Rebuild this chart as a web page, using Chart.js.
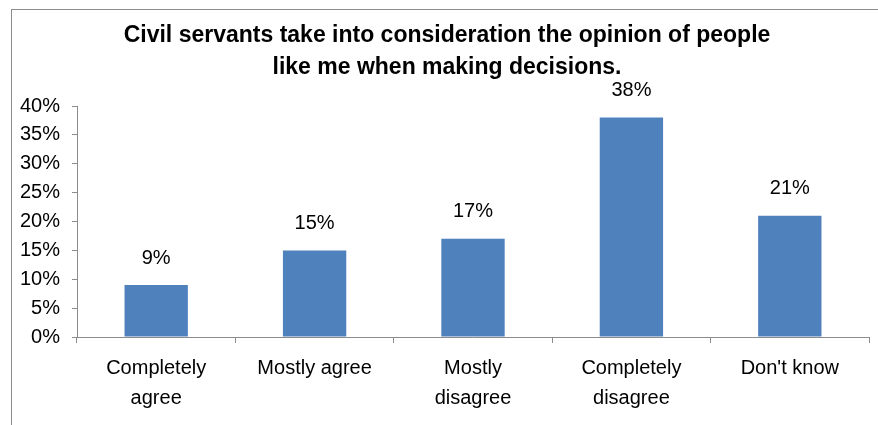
<!DOCTYPE html>
<html>
<head>
<meta charset="utf-8">
<script src="https://cdn.jsdelivr.net/npm/chart.js@4"></script>
<style>
  body { margin: 0; background: #fff; }
  #chart { display: block; }
</style>
</head>
<body>
<canvas id="chart" width="878" height="425"></canvas>
<script>
const categories = [['Completely', 'agree'], 'Mostly agree', ['Mostly', 'disagree'], ['Completely', 'disagree'], "Don't know"];
const values = [9, 15, 17, 38, 21];
const titleLines = ['Civil servants take into consideration the opinion of people', 'like me when making decisions.'];

const ctx = document.getElementById('chart').getContext('2d');

// outer frame and the two-line heading
const frameTitle = {
    id: 'frameTitle',
    beforeDraw(chart) {
        const c = chart.ctx;
        c.save();
        c.strokeStyle = '#8c8c8c';
        c.lineWidth = 1;
        c.strokeRect(11.5, 9.5, 900, 500);
        c.fillStyle = '#000';
        c.font = 'bold 23px "Liberation Sans", Arial, sans-serif';
        c.textAlign = 'center';
        c.textBaseline = 'middle';
        titleLines.forEach((t, i) => c.fillText(t, 447, 36 + i * 32));
        c.restore();
    }
};

// value labels above each bar
const barLabels = {
    id: 'barLabels',
    afterDatasetsDraw(chart) {
        const c = chart.ctx;
        const meta = chart.getDatasetMeta(0);
        c.save();
        c.fillStyle = '#000';
        c.font = '20px "Liberation Sans", Arial, sans-serif';
        c.textAlign = 'center';
        c.textBaseline = 'middle';
        meta.data.forEach((bar, i) => {
            c.fillText(values[i] + '%', bar.x, bar.y - 27);
        });
        c.restore();
    }
};

const myChart = new Chart(ctx, {
    type: 'bar',
    data: {
        labels: categories,
        datasets: [{
            data: values,
            backgroundColor: '#4f81bd',
            barPercentage: 0.4,
            categoryPercentage: 1
        }]
    },
    options: {
        responsive: false,
        animation: false,
        layout: { padding: { top: 106, right: 9, left: 0, bottom: 0 } },
        plugins: {
            legend: { display: false },
            tooltip: { enabled: false }
        },
        scales: {
            x: {
                afterFit(scale) { scale.height = 88; },
                grid: { drawOnChartArea: false, tickLength: 6, color: '#8c8c8c', offset: true },
                border: { color: '#8c8c8c' },
                ticks: {
                    color: '#000',
                    maxRotation: 0,
                    padding: 10,
                    font: { family: '"Liberation Sans", Arial, sans-serif', size: 20, lineHeight: 1.5 }
                }
            },
            y: {
                min: 0,
                max: 40,
                afterFit(scale) { scale.width = 77; },
                grid: { drawOnChartArea: false, tickLength: 5, color: '#8c8c8c' },
                border: { color: '#8c8c8c' },
                ticks: {
                    stepSize: 5,
                    color: '#000',
                    padding: 12,
                    font: { family: '"Liberation Sans", Arial, sans-serif', size: 20 },
                    callback: v => v + '%'
                }
            }
        }
    },
    plugins: [frameTitle, barLabels]
});
</script>
</body>
</html>
